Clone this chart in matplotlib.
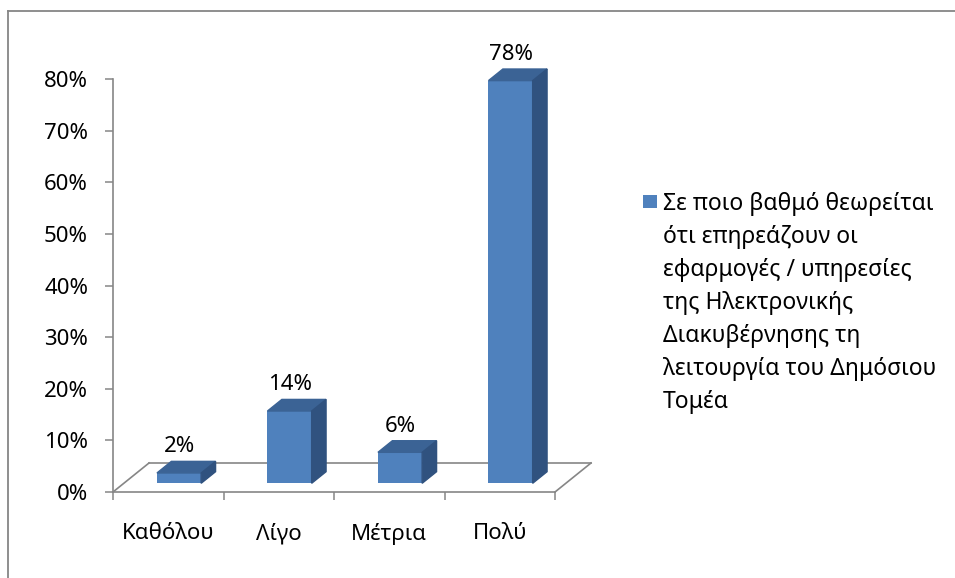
import numpy as np
import matplotlib
matplotlib.use('Agg')
import matplotlib.pyplot as plt
from matplotlib.patches import Polygon, Rectangle
from matplotlib.lines import Line2D

plt.rcParams['font.family'] = ['Noto Sans', 'DejaVu Sans']

categories = ['Καθόλου', 'Λίγο', 'Μέτρια', 'Πολύ']
values = [2, 14, 6, 78]
labels = ['2%', '14%', '6%', '78%']
yticks = [0, 10, 20, 30, 40, 50, 60, 70, 80]
series_name = ('Σε ποιο βαθμό θεωρείται\nότι επηρεάζουν οι\nεφαρμογές / υπηρεσίες\n'
               'της Ηλεκτρονικής\nΔιακυβέρνησης τη\nλειτουργία του Δημόσιου\nΤομέα')

W, H = 955, 578
gray = '#868686'
front = '#4F81BD'
side = '#30527F'
top = '#3B6395'
fs = 16

fig = plt.figure(figsize=(W / 100, H / 100), dpi=100)
ax = fig.add_axes([113 / W, 1 - 492 / H, (555 - 113) / W, (492 - 79) / H])
ax.set_xlim(0, 4)
ax.set_ylim(0, 80)

# depth of the floor (data units) and bar placement inside it
ddx, ddy = 0.326, 5.62
off_x, off_y = 0.3 * ddx, 0.3 * ddy
bdx, bdy = 0.4 * ddx, 0.4 * ddy
bw = 0.4

# floor
for xs, ys in [([ddx, 4 + ddx], [ddy, ddy]), ([0, ddx], [0, ddy]), ([4, 4 + ddx], [0, ddy])]:
    ax.plot(xs, ys, color=gray, lw=1.2, clip_on=False, zorder=1)

x = np.arange(len(categories)) + 0.5
ax.bar(x + off_x, values, width=bw, bottom=off_y, color=front, zorder=3, clip_on=False)
for xi, v, lab in zip(x, values, labels):
    xl = xi + off_x - bw / 2
    xr = xi + off_x + bw / 2
    yt = off_y + v
    ax.add_patch(Polygon([(xl, yt), (xr, yt), (xr + bdx, yt + bdy), (xl + bdx, yt + bdy)],
                         closed=True, color=top, zorder=3, clip_on=False))
    ax.add_patch(Polygon([(xr, off_y), (xr + bdx, off_y + bdy), (xr + bdx, yt + bdy), (xr, yt)],
                         closed=True, color=side, zorder=3, clip_on=False))
    ax.annotate(lab, (xi + off_x, yt + bdy), xytext=(0, 3), textcoords='offset points',
                ha='center', va='bottom', fontsize=fs, annotation_clip=False)

ax.set_yticks(yticks)
ax.set_yticklabels([f'{t}%' for t in yticks], fontsize=fs)
ax.set_xticks(range(5))
ax.set_xticklabels([])
ax.set_xticks(x, categories, minor=True, fontsize=fs)
ax.tick_params(axis='both', which='major', direction='out', length=6, width=1.1, color=gray)
ax.tick_params(axis='y', pad=12)
ax.tick_params(axis='x', which='minor', length=0, pad=22)
for s in ['top', 'right']:
    ax.spines[s].set_visible(False)
for s in ['left', 'bottom']:
    ax.spines[s].set_color(gray)
    ax.spines[s].set_linewidth(1.2)
ax.patch.set_visible(False)

# legend
fig.patches.append(Rectangle((643 / W, 1 - 208 / H), 14 / W, 13 / H, transform=fig.transFigure,
                             facecolor=front, edgecolor='none'))
fig.text(663 / W, 1 - 408 / H, series_name, fontsize=16.5, ha='left', va='baseline',
         linespacing=1.5)

# chart border
fig.add_artist(Line2D([8 / W, 1], [1 - 10.5 / H, 1 - 10.5 / H], color=gray, lw=1.3))
fig.add_artist(Line2D([8 / W, 8 / W], [0, 1 - 10.5 / H], color=gray, lw=1.3))

fig.savefig('out.png', dpi=100)
